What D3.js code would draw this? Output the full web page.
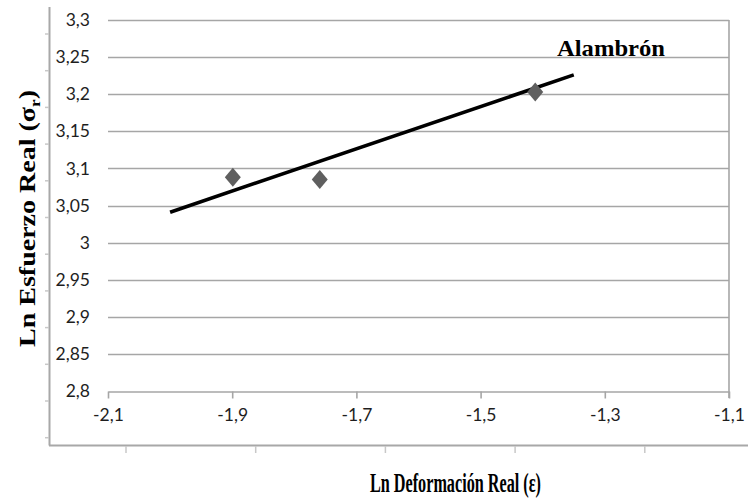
<!DOCTYPE html>
<html>
<head>
<meta charset="utf-8">
<script src="https://cdn.jsdelivr.net/npm/d3@7"></script>
<style>
  body { margin: 0; background: #fff; }
  svg { display: block; }
</style>
</head>
<body>
<div id="chart"></div>
<script>
// data
var xTicks = [-2.1, -1.9, -1.7, -1.5, -1.3, -1.1];
var yTicks = [2.8, 2.85, 2.9, 2.95, 3.0, 3.05, 3.1, 3.15, 3.2, 3.25, 3.3];
var pointX = [-1.899, -1.759, -1.412];
var pointY = [3.088, 3.085, 3.203];
var trendX = [-2.0, -1.35];
var trendY = [3.041, 3.226];
var seriesName = 'Alambrón';

var width = 748, height = 500;

var svg = d3.select('#chart').append('svg')
  .attr('width', width)
  .attr('height', height);

var x = d3.scaleLinear().domain([-2.1, -1.1]).range([108, 729]);
var y = d3.scaleLinear().domain([2.8, 3.3]).range([391, 20]);

function comma(d) { return String(+d.toFixed(2)).replace('.', ','); }

// outer frame of the pasted figure
svg.append('line').attr('x1', 49.5).attr('x2', 49.5).attr('y1', 7).attr('y2', 445.5)
  .attr('stroke', '#a8a8a8').attr('stroke-width', 2);
svg.append('line').attr('x1', 49).attr('x2', 748).attr('y1', 445.5).attr('y2', 445.5)
  .attr('stroke', '#a8a8a8').attr('stroke-width', 2);
svg.selectAll('.outer-ytick')
  .data(d3.range(34, 445, 36.7))
  .enter().append('line')
  .attr('x1', 45).attr('x2', 49)
  .attr('y1', function(d) { return d; }).attr('y2', function(d) { return d; })
  .attr('stroke', '#c8c8c8').attr('stroke-width', 1.5);
svg.selectAll('.outer-xtick')
  .data(d3.range(126, 748, 129.7))
  .enter().append('line')
  .attr('x1', function(d) { return d; }).attr('x2', function(d) { return d; })
  .attr('y1', 446).attr('y2', 453)
  .attr('stroke', '#c8c8c8').attr('stroke-width', 1.5);

// gridlines
svg.selectAll('.grid')
  .data(yTicks.slice(1))
  .enter().append('line')
  .attr('class', 'grid')
  .attr('x1', x(-2.1)).attr('x2', x(-1.1))
  .attr('y1', function(d) { return Math.round(y(d)) + 0.5; })
  .attr('y2', function(d) { return Math.round(y(d)) + 0.5; })
  .attr('stroke', '#a6a6a6').attr('stroke-width', 1.6);

// right border
svg.append('line')
  .attr('x1', x(-1.1)).attr('x2', x(-1.1))
  .attr('y1', y(3.3)).attr('y2', y(2.8) + 7)
  .attr('stroke', '#a6a6a6').attr('stroke-width', 1.6);

// y labels
var yAxis = svg.append('g')
  .attr('transform', 'translate(' + x(-2.1) + ',0)')
  .call(d3.axisLeft(y).tickValues(yTicks).tickSize(0).tickPadding(18).tickFormat(comma));
yAxis.select('.domain').remove();
yAxis.selectAll('text')
  .attr('fill', '#1e1e1e')
  .style('font-family', 'Lato, "Open Sans", sans-serif')
  .style('font-size', '17.5px');

// x axis
var xAxis = svg.append('g')
  .attr('transform', 'translate(0,' + (Math.round(y(2.8)) + 0.5) + ')')
  .call(d3.axisBottom(x).tickValues(xTicks).tickSizeInner(7).tickSizeOuter(0).tickPadding(10).tickFormat(comma));
xAxis.select('.domain').attr('stroke', '#a6a6a6').attr('stroke-width', 1.6);
xAxis.selectAll('.tick line').attr('stroke', '#a6a6a6').attr('stroke-width', 1.6);
xAxis.selectAll('text')
  .attr('fill', '#1e1e1e')
  .style('font-family', 'Lato, "Open Sans", sans-serif')
  .style('font-size', '17.5px');

// trend line
svg.append('path')
  .datum(d3.zip(trendX, trendY))
  .attr('d', d3.line().x(function(d) { return x(d[0]); }).y(function(d) { return y(d[1]); }))
  .attr('fill', 'none')
  .attr('stroke', '#000')
  .attr('stroke-width', 3.6);

// diamonds
svg.selectAll('.pt')
  .data(d3.zip(pointX, pointY))
  .enter().append('path')
  .attr('class', 'pt')
  .attr('d', 'M0,-9.5L8,0L0,9.5L-8,0Z')
  .attr('transform', function(d) { return 'translate(' + x(d[0]) + ',' + y(d[1]) + ')'; })
  .attr('fill', '#5f5f5f');

// series label
svg.append('text')
  .attr('x', 557).attr('y', 56)
  .attr('textLength', 108).attr('lengthAdjust', 'spacingAndGlyphs')
  .style('font-family', '"Liberation Serif", "Times New Roman", serif')
  .style('font-weight', 'bold')
  .style('font-size', '24px')
  .text(seriesName);

// axis titles
svg.append('text')
  .attr('x', 370).attr('y', 492)
  .attr('textLength', 171).attr('lengthAdjust', 'spacingAndGlyphs')
  .style('font-family', '"Liberation Serif", "Times New Roman", serif')
  .style('font-weight', 'bold')
  .style('font-size', '27px')
  .text('Ln Deformación Real (ε)');

var yTitle = svg.append('text')
  .attr('transform', 'translate(35,347) rotate(-90)')
  .attr('textLength', 257).attr('lengthAdjust', 'spacingAndGlyphs')
  .style('font-family', '"Liberation Serif", "Times New Roman", serif')
  .style('font-weight', 'bold')
  .style('font-size', '23px');
yTitle.append('tspan').text('Ln Esfuerzo Real (σ');
yTitle.append('tspan').attr('dy', 5).style('font-size', '14px').text('r');
yTitle.append('tspan').attr('dy', -5).text(')');
</script>
</body>
</html>
